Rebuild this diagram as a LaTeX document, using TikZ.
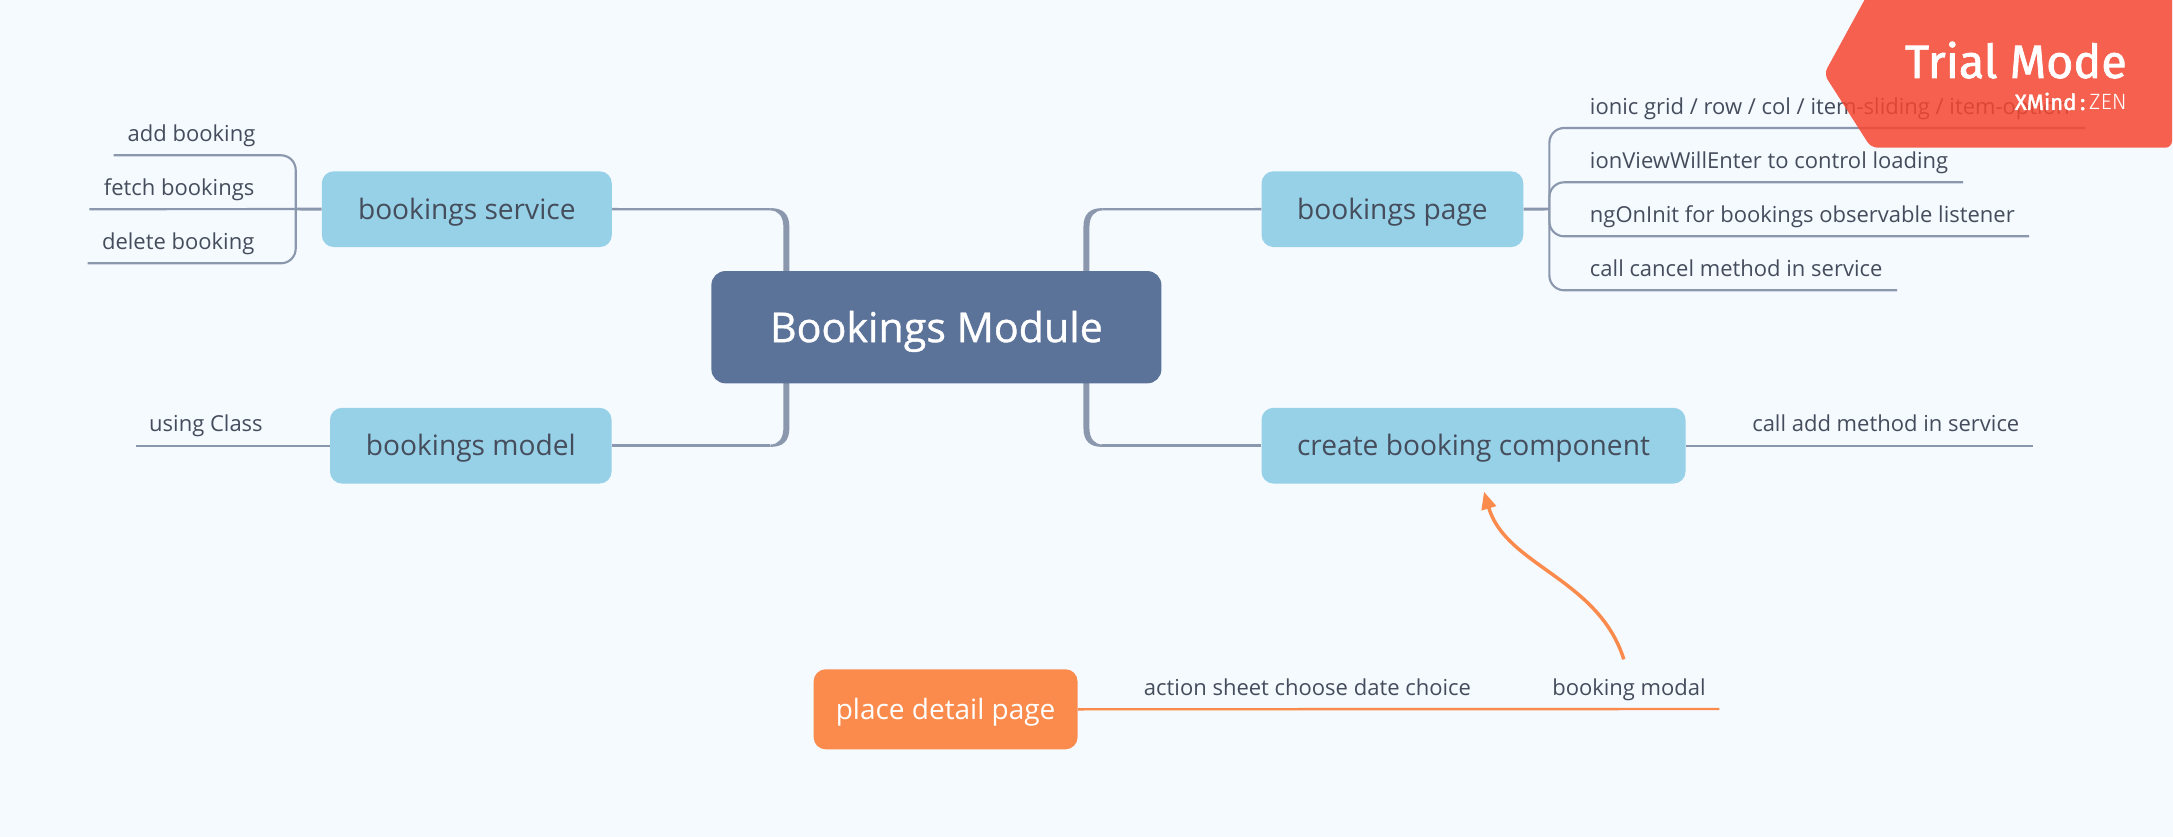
\documentclass[tikz,border=0pt]{standalone}
\usepackage{fontspec}
\setmainfont{Open Sans}
\newfontfamily\trialfont{Fira Sans}
\newfontfamily\triallight{Fira Sans Light}
\usetikzlibrary{arrows.meta,calc}
\definecolor{bgc}{HTML}{F5FAFF}
\definecolor{rootc}{HTML}{5B7299}
\definecolor{subc}{HTML}{97D1E8}
\definecolor{textc}{HTML}{454D5C}
\definecolor{linec}{HTML}{8A97AD}
\definecolor{orangec}{HTML}{FA8B4C}
\definecolor{trialc}{HTML}{F64730}
\newcommand\lowered[2]{\raisebox{-#1}[0pt][0pt]{#2}}
\tikzset{
  x=0.75pt,y=-0.75pt,
  rootbox/.style={fill=rootc,text=white,rounded corners=10.5pt,inner sep=0,font=\fontsize{30.9}{36}\selectfont\addfontfeature{FakeBold=0.9}},
  subbox/.style={fill=subc,text=textc,rounded corners=9pt,inner sep=0,font=\fontsize{21.1}{26}\selectfont},
  orangebox/.style={fill=orangec,text=white,rounded corners=9pt,inner sep=0,font=\fontsize{21}{26}\selectfont},
  leaf/.style={text=textc,inner sep=0,font=\fontsize{16.5}{20}\selectfont},
  leafl/.style={leaf,anchor=base west},
  leafr/.style={leaf,anchor=base east},
  thin line/.style={draw=linec,line width=1.6pt,rounded corners=11pt},
  mid line/.style={draw=linec,line width=2.2pt},
}
% tapered elbow: #1 corner coordinate, #2 xscale, #3 yscale
\newcommand\taperelbow[3]{%
  \begin{scope}[shift={(#1)},xscale=#2,yscale=#3]
    \fill[linec] (-16,-1.2) .. controls (-4,-1.2) and (3,4) .. (3,18) -- (3,70) -- (-3,70)
      -- (-3,18) .. controls (-3,7) and (-8,1.2) .. (-16,1.2) -- cycle;
  \end{scope}}
\begin{document}
\begin{tikzpicture}
\useasboundingbox (0,0) rectangle (2173,837);
\fill[bgc] (0,0) rectangle (2173,837);

% junctions and free ends
\coordinate (svJ) at (295.7,209);
\coordinate (pgJ) at (1549.4,209);
\coordinate (addE) at (113.6,155.3);
\coordinate (fetchE) at (89.3,209.3);
\coordinate (delE) at (87.5,263.3);
\coordinate (classE) at (136,445.7);
\coordinate (gridE) at (2085,128);
\coordinate (viewE) at (1963,182.3);
\coordinate (initE) at (2029,236.3);
\coordinate (cancelE) at (1897,290.3);
\coordinate (addmE) at (2033,445.7);
\coordinate (orE) at (1719.4,709);
\coordinate (arS) at (1623.8,659.3);
\coordinate (arT) at (1484,491.7);
\coordinate (c1) at (786.4,209.3);
\coordinate (c2) at (786.4,445.7);
\coordinate (c3) at (1086.4,209.3);
\coordinate (c4) at (1086.4,445.7);
\coordinate (c1s) at (770.4,209.3);
\coordinate (c2s) at (770.4,445.7);
\coordinate (c3s) at (1102.4,209.3);
\coordinate (c4s) at (1102.4,445.7);

% boxes
\node[subbox,minimum width=217.5pt,minimum height=56.8pt] (sv) at (466.8,209.2) {\lowered{7.5pt}{bookings service}};
\node[subbox,minimum width=211.2pt,minimum height=56.8pt] (md) at (470.8,445.7) {\lowered{7.5pt}{bookings model}};
\node[subbox,minimum width=196.3pt,minimum height=56.8pt] (pg) at (1392.4,209.2) {\lowered{7.5pt}{bookings page}};
\node[subbox,minimum width=318pt,minimum height=56.8pt] (cr) at (1473.5,445.7) {\lowered{7.5pt}{create booking component}};
\node[orangebox,minimum width=197.9pt,minimum height=60pt] (pd) at (945.6,709.3) {\lowered{7.9pt}{place detail page}};

% main connectors
\draw[draw=linec,line width=1.8pt] (sv.east) -- (c1s);
\draw[draw=linec,line width=1.8pt] (md.east) -- (c2s);
\draw[draw=linec,line width=1.8pt] (pg.west) -- (c3s);
\draw[draw=linec,line width=1.8pt] (cr.west) -- (c4s);
\taperelbow{c1}{1}{1}
\taperelbow{c2}{1}{-1}
\taperelbow{c3}{-1}{1}
\taperelbow{c4}{-1}{-1}

% root
\node[rootbox,minimum width=337.5pt,minimum height=84.2pt] (root) at (936.4,327.2) {\lowered{11.2pt}{Bookings Module}};

% leaves
\node[leafr] (add) at (255.6,142) {add booking};
\node[leafr] (fetch) at (254.6,195.8) {fetch bookings};
\node[leafr] (del) at (254.6,249.8) {delete booking};
\node[leafr] (class) at (263,432) {using Class};
\node[leafl] (grid) at (1589.7,115) {ionic grid / row / col / item-sliding / item-option};
\node[leafl] (view) at (1589.7,169) {ionViewWillEnter to control loading};
\node[leafl] (init) at (1589.7,223) {ngOnInit for bookings observable listener};
\node[leafl] (cancel) at (1589.7,277) {call cancel method in service};
\node[leafl] (addm) at (1752,432) {call add method in service};
\node[leafl] (action) at (1143.7,695.4) {action sheet choose date choice};
\node[leafl] (modal) at (1552,695.4) {booking modal};

% leaf connectors
\draw[mid line] (sv.west) -- (svJ);
\draw[thin line] (svJ) |- (addE);
\draw[thin line] (svJ) |- (delE);
\draw[thin line] (svJ) -- (fetchE);
\draw[mid line] (pg.east) -- (pgJ);
\draw[thin line] (pgJ) |- (gridE);
\draw[thin line] (pgJ) |- (viewE);
\draw[thin line] (pgJ) |- (initE);
\draw[thin line] (pgJ) |- (cancelE);
\draw[thin line] (md.west) -- (classE);
\draw[thin line] (cr.east) -- (addmE);
\draw[draw=orangec,line width=1.8pt] (pd.east) -- (orE);

% relationship arrow
\draw[draw=orangec,line width=2.6pt,-{Triangle[length=13pt,width=11pt]}]
  (arS) .. controls (1598,578) and (1506,566) .. (arT);

% trial badge
\fill[trialc,fill opacity=0.85,rounded corners=5pt]
  (1871,-12) -- (1824,74) -- (1871,147.7) -- (2172,147.7) -- (2172,-12) -- cycle;
\node[text=white,inner sep=0,anchor=base east,font=\trialfont\fontsize{35}{40}\selectfont\addfontfeature{FakeBold=1.5}] (trial) at (2127,78) {Trial Mode};
\node[text=white,inner sep=0,anchor=base east,font=\fontsize{16.6}{18}\selectfont] (xmind) at (2127,110) {{\trialfont\addfontfeature{FakeBold=2}XMind\,:}\,{\triallight ZEN}};
\end{tikzpicture}
\end{document}
